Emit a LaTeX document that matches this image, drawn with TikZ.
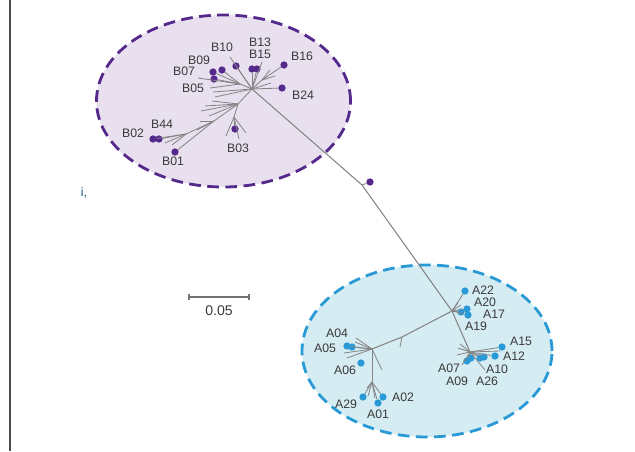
\documentclass[tikz,border=0pt]{standalone}
\usepackage{fontspec}
\setmainfont{Liberation Sans}
\definecolor{bpurple}{HTML}{55298C}
\definecolor{bfill}{HTML}{E8E0EE}
\definecolor{ablue}{HTML}{2A9AD6}
\definecolor{afill}{HTML}{D5ECF2}
\definecolor{branch}{HTML}{858585}
\definecolor{labelgray}{HTML}{3A3A3A}
\begin{document}
\begin{tikzpicture}[x=0.03cm,y=-0.03cm]
			\tikzstyle{every node}+=[inner sep=0pt,font=\fontsize{10.5}{12}\selectfont,text=labelgray]
			\tikzstyle{bdot}=[circle,fill=bpurple,minimum size=6.2pt]
			\tikzstyle{adot}=[circle,fill=ablue,minimum size=6.2pt]
			\tikzstyle{br}=[draw=branch,line width=0.7pt]
			\tikzstyle{ring}=[line width=2.4pt,dash pattern=on 10pt off 5.5pt]
			\useasboundingbox (0,0) rectangle (635,452);
			% frame line and clipped text on the left
			\coordinate (ftop) at (10,0);
			\coordinate (fbot) at (10,451);
			\draw [line width=1.2pt,black!70] (ftop) -- (fbot);
			\node [text=ablue!60!black] (cut) at (84,193) {i,};
			% cluster B
			\coordinate (bc) at (223.5,101);
			\draw [ring,draw=bpurple,fill=bfill] (bc) ellipse [x radius=3.81cm,y radius=2.58cm];
			% cluster A
			\coordinate (ac) at (427,351);
			\draw [ring,draw=ablue,fill=afill] (ac) ellipse [x radius=3.75cm,y radius=2.58cm];
			% scale bar
			\coordinate (s1) at (189,297);
			\coordinate (s2) at (249,297);
			\draw [line width=0.9pt,black!55] (s1) -- (s2);
			\draw [line width=0.9pt,black!55] ([yshift=-2.5pt]s1) -- ([yshift=2.5pt]s1);
			\draw [line width=0.9pt,black!55] ([yshift=-2.5pt]s2) -- ([yshift=2.5pt]s2);
			\node [font=\fontsize{12}{14}\selectfont] (scale) at (219,311) {0.05};
			% backbone
			\coordinate (hb) at (252,89);
			\coordinate (jm) at (362,185);
			\coordinate (ja) at (452,311);
			\draw [br,line width=0.9pt] (hb) -- (jm) -- (ja);
			\node [bdot] (mid) at (370,182) {};
			\draw [br] (jm) -- (mid);
			% B tree, upper part
			\node [bdot] (b10) at (236,66) {};
			\node [bdot] (b13) at (252,69) {};
			\node [bdot] (b15) at (257,69) {};
			\node [bdot] (b16) at (284,65) {};
			\node [bdot] (b24) at (282,88) {};
			\node [bdot] (b09) at (222,70) {};
			\node [bdot] (b07) at (213,72) {};
			\node [bdot] (b05) at (214,79) {};
			\coordinate (hb2) at (240,84);
			\coordinate (hb5) at (262,80);
			\draw [br] (hb) -- (230,57);
			\draw [br] (hb) -- (b10);
			\draw [br] (hb) -- (b13);
			\draw [br] (hb) -- (b15);
			\draw [br] (hb) -- (262,62);
			\draw [br] (hb) -- (hb5);
			\draw [br] (hb5) -- (b16);
			\draw [br] (hb5) -- (270,70);
			\draw [br] (hb5) -- (275,76);
			\draw [br] (hb) -- (271,83);
			\draw [br] (hb) -- (b24);
			\draw [br] (hb) -- (hb2);
			\draw [br] (hb2) -- (b09);
			\draw [br] (hb2) -- (b07);
			\draw [br] (hb2) -- (b05);
			\draw [br] (hb2) -- (198,78);
			\draw [br] (hb2) -- (210,88);
			\draw [br] (hb) -- (213,92);
			\draw [br] (hb) -- (215,97);
			% B tree, lower part
			\coordinate (hb1) at (238,104);
			\coordinate (hb3) at (234,117);
			\coordinate (hb4) at (214,121);
			\coordinate (hb6) at (186,134);
			\node [bdot] (b02) at (153,139) {};
			\node [bdot] (b44) at (159,139) {};
			\node [bdot] (b01) at (175,152) {};
			\node [bdot] (b03) at (235,129) {};
			\draw [br] (hb) -- (hb1);
			\draw [br] (hb1) -- (205,106);
			\draw [br] (hb1) -- (201,111);
			\draw [br] (hb1) -- (209,116);
			\draw [br] (hb1) -- (212,101);
			\draw [br] (hb1) -- (hb3);
			\draw [br] (hb3) -- (b03);
			\draw [br] (hb3) -- (226,136);
			\draw [br] (hb3) -- (246,133);
			\draw [br] (hb3) -- (239,139);
			\draw [br] (hb1) -- (hb4);
			\draw [br] (hb4) -- (hb6);
			\draw [br] (hb4) -- (200,121);
			\draw [br] (hb4) -- (197,130);
			\draw [br] (hb6) -- (b02);
			\draw [br] (hb6) -- (b44);
			\draw [br] (hb6) -- (165,143);
			\draw [br] (hb6) -- (172,145);
			\draw [br] (hb4) -- (b01);
			% B labels
			\node (lb10) at (222,47) {B10};
			\node (lb13) at (260,42) {B13};
			\node (lb15) at (260,54) {B15};
			\node (lb16) at (302,56) {B16};
			\node (lb09) at (199,60) {B09};
			\node (lb07) at (184,71) {B07};
			\node (lb05) at (193,88) {B05};
			\node (lb24) at (303,95) {B24};
			\node (lb44) at (162,124) {B44};
			\node (lb02) at (133,133) {B02};
			\node (lb03) at (238,148) {B03};
			\node (lb01) at (173,161) {B01};
			% A tree, top group
			\node [adot] (a22) at (465,291) {};
			\node [adot] (a20) at (467,309) {};
			\node [adot] (a17) at (468,315) {};
			\node [adot] (a19) at (461,312) {};
			\draw [br] (ja) -- (a22);
			\draw [br] (ja) -- (458,303);
			\draw [br] (ja) -- (461,305);
			\draw [br] (ja) -- (a20);
			\draw [br] (ja) -- (a17);
			\draw [br] (ja) -- (a19);
			% A tree, left group
			\coordinate (hm) at (402,337);
			\coordinate (hl) at (372,349);
			\coordinate (hl2) at (372,382);
			\draw [br,line width=0.9pt] (ja) -- (hm) -- (hl);
			\draw [br] (hm) -- (400,347);
			\node [adot] (a05) at (347,346) {};
			\node [adot] (a04) at (352,347) {};
			\node [adot] (a06) at (361,363) {};
			\node [adot] (a29) at (363,397) {};
			\node [adot] (a01) at (378,403) {};
			\node [adot] (a02) at (383,397) {};
			\draw [br] (hl) -- (356,338);
			\draw [br] (hl) -- (355,342);
			\draw [br] (hl) -- (a04);
			\draw [br] (hl) -- (a05);
			\draw [br] (hl) -- (344,353);
			\draw [br] (hl) -- (347,358);
			\draw [br] (hl) -- (382,370);
			\draw [br] (hl) -- (hl2);
			\draw [br] (hl2) -- (a29);
			\draw [br] (hl2) -- (368,396);
			\draw [br] (hl2) -- (a01);
			\draw [br] (hl2) -- (375,398);
			\draw [br] (hl2) -- (a02);
			\draw [br] (hl2) -- (367,388);
			% A tree, right group
			\coordinate (hr) at (470,352);
			\draw [br,line width=0.9pt] (ja) -- (hr);
			\node [adot] (a15) at (502,347) {};
			\node [adot] (a12) at (495,356) {};
			\node [adot] (a10) at (480,358) {};
			\node [adot] (a26) at (484,357) {};
			\node [adot] (a07) at (467,361) {};
			\node [adot] (a09) at (471,358) {};
			\draw [br] (hr) -- (500,351);
			\draw [br] (hr) -- (a15);
			\draw [br] (hr) -- (a12);
			\draw [br] (hr) -- (a10);
			\draw [br] (hr) -- (a26);
			\draw [br] (hr) -- (485,370);
			\draw [br] (hr) -- (a07);
			\draw [br] (hr) -- (a09);
			\draw [br] (hr) -- (460,344);
			\draw [br] (hr) -- (458,348);
			\draw [br] (hr) -- (457,355);
			\draw [br] (hr) -- (462,365);
			% A labels
			\node (la22) at (483,290) {A22};
			\node (la20) at (485,302) {A20};
			\node (la17) at (494,314) {A17};
			\node (la19) at (476,326) {A19};
			\node (la04) at (337,333) {A04};
			\node (la05) at (325,348) {A05};
			\node (la06) at (345,370) {A06};
			\node (la15) at (521,341) {A15};
			\node (la12) at (514,356) {A12};
			\node (la10) at (497,369) {A10};
			\node (la07) at (449,368) {A07};
			\node (la09) at (457,381) {A09};
			\node (la26) at (487,381) {A26};
			\node (la29) at (346,404) {A29};
			\node (la02) at (403,397) {A02};
			\node (la01) at (378,414) {A01};
			\end{tikzpicture}
\end{document}
